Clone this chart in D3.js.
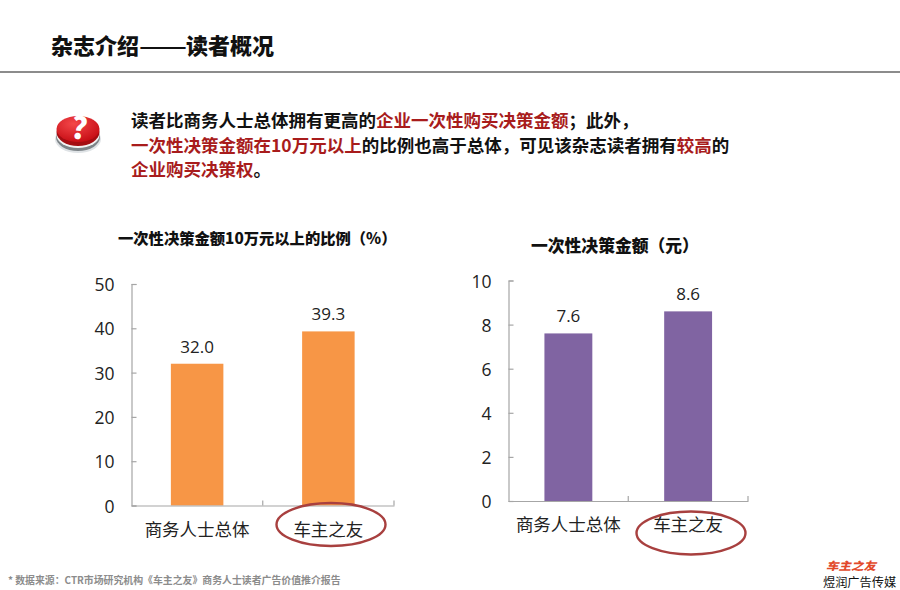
<!DOCTYPE html>
<html>
<head>
  <meta charset="utf-8">
  <script src="https://d3js.org/d3.v7.min.js"></script>
  <style>
    html, body { margin: 0; padding: 0; background: #fff; }
    svg { display: block; }
    text { font-family: "Noto Sans CJK SC", sans-serif; }
    .num { font-family: "Open Sans", "Noto Sans", sans-serif; }
  </style>
</head>
<body>
<script>
  var categories = ['商务人士总体', '车主之友'];
  var ratioValues = [32.0, 39.3];
  var amountValues = [7.6, 8.6];
  var ratioTicks = [0, 10, 20, 30, 40, 50];
  var amountTicks = [0, 2, 4, 6, 8, 10];

  var red = '#a81c1c', black = '#111';
  var noteLines = [
    [['读者比商务人士总体拥有更高的', black], ['企业一次性购买决策金额', red], ['；此外，', black]],
    [['一次性决策金额在10万元以上', red], ['的比例也高于总体，可见该杂志读者拥有', black], ['较高', red], ['的', black]],
    [['企业购买决策权', red], ['。', black]]
  ];

  var svg = d3.select('body').append('svg').attr('width', 900).attr('height', 590);
  var defs = svg.append('defs');

  // header, the dash runs a little longer than two characters
  svg.append('text').attr('x', 51).attr('y', 54).attr('font-size', 22)
    .attr('font-weight', 900).attr('fill', '#111').text('杂志介绍');
  svg.append('text').attr('x', 139).attr('y', 54).attr('font-size', 22)
    .attr('font-weight', 700).attr('fill', '#111')
    .attr('textLength', 48).attr('lengthAdjust', 'spacingAndGlyphs').text('——');
  svg.append('text').attr('x', 186).attr('y', 54).attr('font-size', 22)
    .attr('font-weight', 900).attr('fill', '#111').text('读者概况');
  svg.append('line').attr('x1', 0).attr('x2', 900).attr('y1', 72).attr('y2', 72)
    .attr('stroke', '#666').attr('stroke-width', 1.5);

  // question button
  var top1 = defs.append('radialGradient').attr('id', 'btnTop').attr('cx', '40%').attr('cy', '30%').attr('r', '70%');
  top1.append('stop').attr('offset', '0%').attr('stop-color', '#f4474a');
  top1.append('stop').attr('offset', '100%').attr('stop-color', '#c80f16');
  var btn = svg.append('g');
  btn.append('ellipse').attr('cx', 78).attr('cy', 139).attr('rx', 23).attr('ry', 14).attr('fill', '#dfe3e6');
  btn.append('ellipse').attr('cx', 78).attr('cy', 137).attr('rx', 22).attr('ry', 14).attr('fill', '#7d8488');
  btn.append('ellipse').attr('cx', 78).attr('cy', 135).attr('rx', 21.5).attr('ry', 13).attr('fill', '#f2f2f2');
  btn.append('ellipse').attr('cx', 78).attr('cy', 132).attr('rx', 21.5).attr('ry', 14).attr('fill', '#a50d12');
  btn.append('ellipse').attr('cx', 78).attr('cy', 129).attr('rx', 21.5).attr('ry', 13).attr('fill', 'url(#btnTop)');
  btn.append('text').attr('x', 79).attr('y', 139).attr('text-anchor', 'middle')
    .attr('font-size', 30).attr('font-weight', 900).attr('fill', '#fff')
    .attr('transform', 'rotate(8 79 129)').text('?');

  // note text
  noteLines.forEach(function(line, i) {
    var t = svg.append('text').attr('x', 131).attr('y', 127 + i * 24.5)
      .attr('font-size', 17.5).attr('font-weight', 700);
    line.forEach(function(seg) {
      t.append('tspan').attr('fill', seg[1]).text(seg[0]);
    });
  });

  function drawChart(opt) {
    var width = opt.x1 - opt.x0;
    var x = d3.scaleBand().domain(categories).range([opt.x0, opt.x1]).padding(0.6).paddingOuter(0.3);
    var y = d3.scaleLinear().domain([0, d3.max(opt.ticks)]).range([opt.y0, opt.y1]);
    var g = svg.append('g');

    g.selectAll('rect').data(opt.values).enter().append('rect')
      .attr('x', function(d, i) { return x(categories[i]); })
      .attr('y', function(d) { return y(d); })
      .attr('width', x.bandwidth())
      .attr('height', function(d) { return opt.y0 - y(d); })
      .attr('fill', opt.color);

    g.selectAll('.val').data(opt.values).enter().append('text')
      .attr('class', 'num')
      .attr('x', function(d, i) { return x(categories[i]) + x.bandwidth() / 2; })
      .attr('y', function(d) { return y(d) - 11; })
      .attr('text-anchor', 'middle').attr('font-size', 17).attr('fill', '#222')
      .text(function(d) { return d.toFixed(1); });

    var yAxis = g.append('g').attr('transform', 'translate(' + opt.x0 + ',0)')
      .call(d3.axisLeft(y).tickValues(opt.ticks).tickSize(-5).tickPadding(17));
    yAxis.select('.domain').attr('stroke', '#a6a6a6').attr('stroke-width', 1.2);
    yAxis.selectAll('.tick line').attr('stroke', '#a6a6a6').attr('stroke-width', 1.2);
    yAxis.selectAll('.tick text').attr('class', 'num').attr('font-size', 17.5)
      .attr('fill', '#222').attr('dy', '0.38em');

    var xAxis = g.append('g').attr('transform', 'translate(0,' + opt.y0 + ')')
      .call(d3.axisBottom(x).tickSize(0).tickPadding(opt.labelPad));
    xAxis.select('.domain').attr('stroke', '#a6a6a6').attr('stroke-width', 1.2);
    xAxis.selectAll('.tick text').attr('font-size', 17.5).attr('fill', '#222')
      .style('font-family', '"Noto Sans CJK SC", sans-serif');
    // category boundary ticks
    g.selectAll('.sep').data([0.5, 1]).enter().append('line')
      .attr('x1', function(d) { return opt.x0 + width * d; })
      .attr('x2', function(d) { return opt.x0 + width * d; })
      .attr('y1', opt.y0).attr('y2', opt.y0 - 5)
      .attr('stroke', '#a6a6a6').attr('stroke-width', 1.2);

    g.append('text').attr('x', opt.titleX).attr('y', opt.titleY)
      .attr('font-size', opt.titleSize).attr('font-weight', 900).attr('fill', '#111')
      .text(opt.title);

    g.append('ellipse')
      .attr('cx', opt.ringX).attr('cy', opt.ringY).attr('rx', 54.5).attr('ry', 21.5)
      .attr('fill', 'none').attr('stroke', '#a8403f').attr('stroke-width', 2.4);
  }

  drawChart({
    x0: 131.5, x1: 394, y0: 505.5, y1: 284,
    values: ratioValues, ticks: ratioTicks, color: '#f79646',
    title: '一次性决策金额10万元以上的比例（%）', titleX: 118, titleY: 244, titleSize: 15.3,
    labelPad: 18, ringX: 331, ringY: 524.5
  });
  drawChart({
    x0: 508.5, x1: 748, y0: 501, y1: 280.5,
    values: amountValues, ticks: amountTicks, color: '#8064a2',
    title: '一次性决策金额（元）', titleX: 531, titleY: 252, titleSize: 16.8,
    labelPad: 18, ringX: 691, ringY: 533
  });

  // footer
  svg.append('text').attr('x', 8).attr('y', 584).attr('font-size', 9.9)
    .attr('font-weight', 700).attr('fill', '#8c8c8c')
    .text('* 数据来源：CTR市场研究机构《车主之友》商务人士读者广告价值推介报告');
  svg.append('text').attr('x', 826).attr('y', 570).attr('font-size', 11)
    .attr('font-weight', 900).attr('font-style', 'italic').attr('fill', '#e2492b')
    .attr('textLength', 50).attr('lengthAdjust', 'spacingAndGlyphs').text('车主之友');
  svg.append('text').attr('x', 823).attr('y', 587).attr('font-size', 12.2)
    .attr('fill', '#111').text('煜润广告传媒');
</script>
</body>
</html>
